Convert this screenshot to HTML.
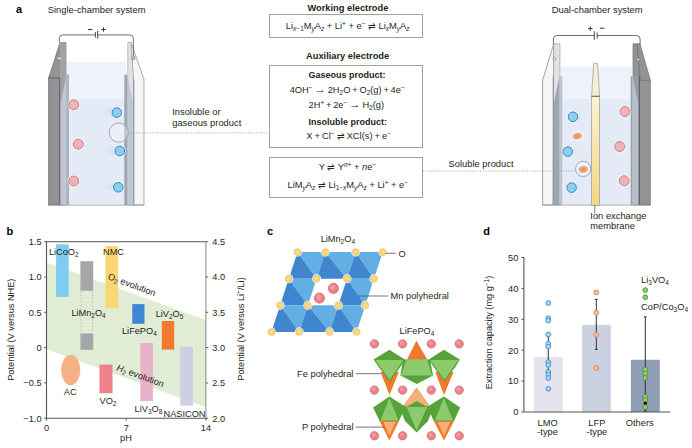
<!DOCTYPE html><html><head><meta charset="utf-8"><style>html,body{margin:0;padding:0;background:#fff;}svg{display:block;}text{font-family:"Liberation Sans",sans-serif;}</style></head><body>
<svg width="692" height="448" viewBox="0 0 692 448">
<defs><linearGradient id="trailL" x1="0" x2="1" y1="0" y2="0"><stop offset="0" stop-color="#d4ebfa" stop-opacity="0"/><stop offset="1" stop-color="#bfe0f6" stop-opacity="0.95"/></linearGradient><linearGradient id="trailR" x1="0" x2="1" y1="0" y2="0"><stop offset="0" stop-color="#bfe0f6" stop-opacity="0.95"/><stop offset="1" stop-color="#d4ebfa" stop-opacity="0"/></linearGradient><linearGradient id="memb" x1="0" x2="0" y1="0" y2="1"><stop offset="0" stop-color="#fbf3d8"/><stop offset="0.25" stop-color="#f9ebbe"/><stop offset="1" stop-color="#f4d682"/></linearGradient><radialGradient id="blob"><stop offset="0" stop-color="#e58f60"/><stop offset="0.7" stop-color="#eba37c"/><stop offset="1" stop-color="#f2c0a4"/></radialGradient></defs>
<text x="16" y="13.4" font-size="11" text-anchor="start" font-weight="bold" fill="#000" >a</text>
<text x="47.8" y="12.8" font-size="9.35" text-anchor="start" font-weight="normal" fill="#231f20" >Single-chamber system</text>
<text x="551.7" y="13.4" font-size="9.35" text-anchor="start" font-weight="normal" fill="#231f20" >Dual-chamber system</text>
<rect x="66" y="62" width="60" height="143" fill="#eef2fa"/>
<rect x="66" y="99" width="60" height="106" fill="#e4ebf6"/>
<polygon points="48.5,78 60,42.5 66,42.5 66,205 48.5,205" fill="#939395" stroke="#666" stroke-width="0.6"/>
<polygon points="60,42.5 66,42.5 66,78 60,78" fill="#a2a2a4"/>
<line x1="48.5" y1="78" x2="60" y2="78" stroke="#555" stroke-width="0.8"/>
<line x1="59.8" y1="78" x2="59.8" y2="205" stroke="#5c616a" stroke-width="1.2"/>
<polygon points="60.4,103 66.4,74.5 66.4,205 60.4,205" fill="#bfc6d0"/>
<polygon points="60.4,74.5 66.4,74.5 60.4,103" fill="#a2a2a4"/>
<rect x="66.4" y="74.5" width="2.6" height="130.5" fill="#a9b1bd"/>
<polygon points="131,42.5 144,79.4 144,205 133.4,205 133.4,79.4" fill="#f6f6f6" stroke="#9a9a9a" stroke-width="0.8"/>
<polygon points="127.8,42.5 131,42.5 133.4,79.4 133.4,205 127.8,205" fill="#e0e2e6" stroke="#9a9a9a" stroke-width="0.6"/>
<polygon points="127.2,74.7 133.4,103.5 133.4,205 127.2,205" fill="#bfc7d1"/>
<rect x="124.3" y="74.7" width="2.9" height="130.3" fill="#9ea6b2"/>
<line x1="133.9" y1="79.4" x2="133.9" y2="205" stroke="#8a92a0" stroke-width="1"/>
<line x1="48.5" y1="205.2" x2="144" y2="205.2" stroke="#888" stroke-width="0.6"/>
<path d="M59.3,42.5 V38.5 Q59.3,34.9 63,34.9 H95.4 M97.6,34.9 H129.7 Q133.4,34.9 133.4,38.5 V56" fill="none" stroke="#6e6e6e" stroke-width="1"/>
<line x1="95.4" y1="32" x2="95.4" y2="37.6" stroke="#555" stroke-width="1.1"/>
<line x1="97.6" y1="30.8" x2="97.6" y2="38.7" stroke="#555" stroke-width="1.1"/>
<line x1="87.9" y1="29.5" x2="92.3" y2="29.5" stroke="#333" stroke-width="1"/>
<path d="M101.3,29.5 H105.7 M103.5,27.3 V31.7" stroke="#333" stroke-width="1"/>
<ellipse cx="59.5" cy="58.3" rx="1.9" ry="1.2" fill="#f2f2f2" stroke="#777" stroke-width="0.5"/>
<circle cx="133.4" cy="58" r="1.8" fill="#bbb" stroke="#777" stroke-width="0.5"/>
<circle cx="73.7" cy="104.8" r="6.3" fill="#fff" opacity="0.7"/>
<circle cx="73.7" cy="104.8" r="5" fill="#edb3b9" stroke="#c47e88" stroke-width="1"/>
<circle cx="78.3" cy="144.2" r="6.3" fill="#fff" opacity="0.7"/>
<circle cx="78.3" cy="144.2" r="5" fill="#edb3b9" stroke="#c47e88" stroke-width="1"/>
<circle cx="73.7" cy="181" r="6.3" fill="#fff" opacity="0.7"/>
<circle cx="73.7" cy="181" r="5" fill="#edb3b9" stroke="#c47e88" stroke-width="1"/>
<path d="M94.8,112.6 Q108.8,106.6 116.8,108.6 L116.8,116.6 Q108.8,117.6 94.8,112.6 Z" fill="url(#trailL)"/>
<circle cx="116.8" cy="112.6" r="6.2" fill="#fff" opacity="0.55"/>
<circle cx="116.8" cy="112.6" r="4.8" fill="#8ccff2" stroke="#3b80b8" stroke-width="1"/>
<path d="M97.8,151 Q111.8,145 119.8,147 L119.8,155 Q111.8,156 97.8,151 Z" fill="url(#trailL)"/>
<circle cx="119.8" cy="151" r="6.2" fill="#fff" opacity="0.55"/>
<circle cx="119.8" cy="151" r="4.8" fill="#8ccff2" stroke="#3b80b8" stroke-width="1"/>
<path d="M96.3,187.3 Q110.3,181.3 118.3,183.3 L118.3,191.3 Q110.3,192.3 96.3,187.3 Z" fill="url(#trailL)"/>
<circle cx="118.3" cy="187.3" r="6.2" fill="#fff" opacity="0.55"/>
<circle cx="118.3" cy="187.3" r="4.8" fill="#8ccff2" stroke="#3b80b8" stroke-width="1"/>
<circle cx="118.8" cy="132.6" r="9.6" fill="#f8fafd" fill-opacity="0.35" stroke="#9a9a9a" stroke-width="0.8"/>
<line x1="128.4" y1="132.9" x2="269.8" y2="132.9" stroke="#a0a0a0" stroke-width="0.8" stroke-dasharray="1.3,1.3"/>
<text x="172.2" y="115.4" font-size="9.35" text-anchor="start" font-weight="normal" fill="#231f20" >Insoluble or</text>
<text x="172.2" y="126.4" font-size="9.35" text-anchor="start" font-weight="normal" fill="#231f20" >gaseous product</text>
<rect x="560" y="66.8" width="72" height="138.4" fill="#eef2fa"/>
<rect x="560" y="99" width="72" height="106.2" fill="#e4ebf6"/>
<polygon points="553.7,43.8 542.6,80.3 542.6,205 553.3,205" fill="#f6f6f6" stroke="#9a9a9a" stroke-width="0.9"/>
<polygon points="553.7,43.8 560,43.8 559.4,205 553.4,205" fill="#e2e2e4" stroke="#9a9a9a" stroke-width="0.6"/>
<polygon points="553.4,104.8 559.4,76.3 559.4,205 553.4,205" fill="#9ea6b2"/>
<rect x="559.4" y="76.3" width="2.9" height="128.7" fill="#bcc4ce"/>
<line x1="553.2" y1="76.3" x2="553.2" y2="205" stroke="#888" stroke-width="0.8"/>
<rect x="552.8" y="57.6" width="3" height="2.6" rx="0.8" fill="#ddd" stroke="#777" stroke-width="0.5"/>
<polygon points="633,43.8 640,43.8 650.4,80.3 650.4,205 633,205" fill="#939395" stroke="#666" stroke-width="0.6"/>
<polyline points="637,43.8 640.2,80.3" fill="none" stroke="#6a6a6a" stroke-width="0.7"/>
<line x1="640.2" y1="80.3" x2="650.4" y2="80.3" stroke="#666" stroke-width="0.6"/>
<rect x="630.7" y="76.3" width="1.8" height="128.7" fill="#9aa0aa"/>
<rect x="632.5" y="76.3" width="6.2" height="128.7" fill="#b6bec8"/>
<polygon points="632.5,76.3 638.7,76.3 638.7,104.8" fill="#9c9c9e"/>
<rect x="638.7" y="76.3" width="1.1" height="128.7" fill="#555a63"/>
<circle cx="638.2" cy="59.5" r="1.5" fill="#ccc" stroke="#666" stroke-width="0.5"/>
<line x1="542.6" y1="205.1" x2="650.4" y2="205.1" stroke="#888" stroke-width="0.6"/>
<polygon points="593.7,63.3 597.6,63.3 599.6,96.3 591.6,96.3" fill="#f6eed4" stroke="#9a9a9a" stroke-width="0.7"/>
<rect x="591.6" y="96.3" width="8" height="109" fill="url(#memb)" stroke="#9a9a9a" stroke-width="0.7"/>
<line x1="591.6" y1="96.3" x2="599.6" y2="96.3" stroke="#555" stroke-width="0.8"/>
<line x1="594.8" y1="205.3" x2="594.8" y2="213" stroke="#555" stroke-width="0.8"/>
<path d="M553.4,44.5 V39 Q553.4,35.5 557,35.5 H594.3 M597.2,35.5 H636.5 Q640.1,35.5 640.1,39 V44.5" fill="none" stroke="#6e6e6e" stroke-width="1"/>
<line x1="594.3" y1="31.3" x2="594.3" y2="39.7" stroke="#555" stroke-width="1.1"/>
<line x1="597.2" y1="32.5" x2="597.2" y2="38.5" stroke="#555" stroke-width="1.1"/>
<path d="M588.1,28.6 H592.5 M590.3,26.4 V30.8" stroke="#333" stroke-width="1"/>
<line x1="600" y1="28.2" x2="604.4" y2="28.2" stroke="#333" stroke-width="1"/>
<circle cx="625" cy="111.5" r="6.3" fill="#fff" opacity="0.7"/>
<circle cx="625" cy="111.5" r="5" fill="#edb3b9" stroke="#c47e88" stroke-width="1"/>
<circle cx="619.7" cy="146.5" r="6.3" fill="#fff" opacity="0.7"/>
<circle cx="619.7" cy="146.5" r="5" fill="#edb3b9" stroke="#c47e88" stroke-width="1"/>
<circle cx="624.2" cy="180.8" r="6.3" fill="#fff" opacity="0.7"/>
<circle cx="624.2" cy="180.8" r="5" fill="#edb3b9" stroke="#c47e88" stroke-width="1"/>
<path d="M587,116.8 Q579,111.8 573,112.8 L573,120.8 Q579,121.8 587,116.8 Z" fill="url(#trailR)"/>
<circle cx="573" cy="116.8" r="6.2" fill="#fff" opacity="0.55"/>
<circle cx="573" cy="116.8" r="4.8" fill="#8ccff2" stroke="#3b80b8" stroke-width="1"/>
<path d="M581.8,151.6 Q573.8,146.6 567.8,147.6 L567.8,155.6 Q573.8,156.6 581.8,151.6 Z" fill="url(#trailR)"/>
<circle cx="567.8" cy="151.6" r="6.2" fill="#fff" opacity="0.55"/>
<circle cx="567.8" cy="151.6" r="4.8" fill="#8ccff2" stroke="#3b80b8" stroke-width="1"/>
<path d="M585.6,187.6 Q577.6,182.6 571.6,183.6 L571.6,191.6 Q577.6,192.6 585.6,187.6 Z" fill="url(#trailR)"/>
<circle cx="571.6" cy="187.6" r="6.2" fill="#fff" opacity="0.55"/>
<circle cx="571.6" cy="187.6" r="4.8" fill="#8ccff2" stroke="#3b80b8" stroke-width="1"/>
<ellipse cx="577.3" cy="136.1" rx="6.2" ry="4.6" fill="#fff" opacity="0.6"/>
<ellipse cx="577.3" cy="136.1" rx="5" ry="3.5" fill="url(#blob)" transform="rotate(-8 577.3 136.1)"/>
<circle cx="583.2" cy="168.9" r="7.6" fill="#fafbfd" fill-opacity="0.7" stroke="#8894a2" stroke-width="0.8"/>
<ellipse cx="583.2" cy="169.4" rx="5" ry="3.7" fill="url(#blob)" transform="rotate(-8 583.2 169.4)"/>
<line x1="422.8" y1="171" x2="575.3" y2="171" stroke="#a0a0a0" stroke-width="0.8" stroke-dasharray="1.3,1.3"/>
<text x="448.6" y="167.2" font-size="9.35" text-anchor="start" font-weight="normal" fill="#231f20" >Soluble product</text>
<text x="590.3" y="218.5" font-size="9.35" text-anchor="start" font-weight="normal" fill="#231f20" >Ion exchange</text>
<text x="590.3" y="228.8" font-size="9.35" text-anchor="start" font-weight="normal" fill="#231f20" >membrane</text>
<rect x="269.5" y="14.5" width="153" height="23" fill="none" stroke="#a0a0a0" stroke-width="1"/>
<rect x="269.5" y="65.5" width="153" height="82" fill="none" stroke="#a0a0a0" stroke-width="1"/>
<rect x="269.5" y="157.5" width="153" height="40" fill="none" stroke="#a0a0a0" stroke-width="1"/>
<text x="347.9" y="10.7" font-size="9.3" text-anchor="middle" font-weight="bold" fill="#231f20" >Working electrode</text>
<text x="347.6" y="59.1" font-size="9.3" text-anchor="middle" font-weight="bold" fill="#231f20" >Auxiliary electrode</text>
<text x="347" y="77.7" font-size="9.0" text-anchor="middle" font-weight="bold" fill="#231f20" >Gaseous product:</text>
<text x="347.8" y="124.6" font-size="9.0" text-anchor="middle" font-weight="bold" fill="#231f20" >Insoluble product:</text>
<text x="347.7" y="28.6" font-size="9.3" text-anchor="middle" font-weight="normal" fill="#231f20" >Li<tspan baseline-shift="-2.2" font-size="6.5"><tspan font-style="italic">x</tspan>−1</tspan>M<tspan baseline-shift="-2.2" font-size="6.5"><tspan font-style="italic">y</tspan></tspan>A<tspan baseline-shift="-2.2" font-size="6.5"><tspan font-style="italic">z</tspan></tspan> + Li<tspan baseline-shift="3.5" font-size="6.5">+</tspan> + e<tspan baseline-shift="3.5" font-size="6.5">−</tspan> ⇌ Li<tspan baseline-shift="-2.2" font-size="6.5"><tspan font-style="italic">x</tspan></tspan>M<tspan baseline-shift="-2.2" font-size="6.5"><tspan font-style="italic">y</tspan></tspan>A<tspan baseline-shift="-2.2" font-size="6.5"><tspan font-style="italic">z</tspan></tspan></text>
<text x="347.2" y="92.9" font-size="9.3" text-anchor="middle" font-weight="normal" fill="#231f20" word-spacing="-0.8">4OH<tspan baseline-shift="3.5" font-size="6.5">−</tspan> <tspan font-size="11.5">→</tspan> 2H<tspan baseline-shift="-2.2" font-size="6.5">2</tspan>O + O<tspan baseline-shift="-2.2" font-size="6.5">2</tspan>(g) + 4e<tspan baseline-shift="3.5" font-size="6.5">−</tspan></text>
<text x="346.3" y="107.9" font-size="9.3" text-anchor="middle" font-weight="normal" fill="#231f20" word-spacing="-0.8">2H<tspan baseline-shift="3.5" font-size="6.5">+</tspan> + 2e<tspan baseline-shift="3.5" font-size="6.5">−</tspan> <tspan font-size="11.5">→</tspan> H<tspan baseline-shift="-2.2" font-size="6.5">2</tspan>(g)</text>
<text x="348.6" y="138.9" font-size="9.3" text-anchor="middle" font-weight="normal" fill="#231f20" word-spacing="-0.5">X + Cl<tspan baseline-shift="3.5" font-size="6.5">−</tspan> ⇌ XCl(s) + e<tspan baseline-shift="3.5" font-size="6.5">−</tspan></text>
<text x="347.4" y="170.3" font-size="9.3" text-anchor="middle" font-weight="normal" fill="#231f20" >Y ⇌ Y<tspan baseline-shift="3.5" font-size="6.5"><tspan font-style="italic">n</tspan>+</tspan> + <tspan font-style="italic">n</tspan>e<tspan baseline-shift="3.5" font-size="6.5">−</tspan></text>
<text x="347.8" y="188.1" font-size="9.3" text-anchor="middle" font-weight="normal" fill="#231f20" >LiM<tspan baseline-shift="-2.2" font-size="6.5"><tspan font-style="italic">y</tspan></tspan>A<tspan baseline-shift="-2.2" font-size="6.5"><tspan font-style="italic">z</tspan></tspan> ⇌ Li<tspan baseline-shift="-2.2" font-size="6.5">1−<tspan font-style="italic">x</tspan></tspan>M<tspan baseline-shift="-2.2" font-size="6.5"><tspan font-style="italic">y</tspan></tspan>A<tspan baseline-shift="-2.2" font-size="6.5"><tspan font-style="italic">z</tspan></tspan> + Li<tspan baseline-shift="3.5" font-size="6.5">+</tspan> + e<tspan baseline-shift="3.5" font-size="6.5">−</tspan></text>
<text x="6.5" y="235" font-size="11" text-anchor="start" font-weight="bold" fill="#000" >b</text>
<polygon points="46.5,262.6 205.9,320 205.9,407.2 46.5,349.0" fill="#e0ecd3"/>
<rect x="56.1" y="244.3" width="12.6" height="52.6" fill="#7ccdf0" opacity="1"/>
<rect x="80.4" y="261.2" width="12.8" height="29.5" fill="#a4a6a9" opacity="1"/>
<path d="M81,291 V333 M92.6,291 V333" fill="none" stroke="#b0b2b0" stroke-width="0.8" stroke-dasharray="1.5,2"/>
<rect x="80.4" y="333.4" width="12.8" height="16.4" fill="#a4a6a9" opacity="1"/>
<rect x="105.4" y="246" width="12.8" height="62.0" fill="#fad772" opacity="1"/>
<rect x="132.3" y="304.1" width="12.2" height="19.7" fill="#3d87d4" opacity="1"/>
<rect x="161.8" y="321" width="12.4" height="28.6" fill="#ef7a30" opacity="1"/>
<rect x="140.3" y="343" width="12.6" height="58.0" fill="#e8b2c6" opacity="1"/>
<rect x="180.3" y="346.8" width="12.7" height="58.9" fill="#ccd0e2" opacity="1"/>
<rect x="99.5" y="364.6" width="13.0" height="28.6" fill="#f08089" opacity="1"/>
<ellipse cx="70.7" cy="370" rx="9.6" ry="15.2" fill="#f5b286"/>
<path d="M205.9,418.2 H46.5 V241.7 H205.9" fill="none" stroke="#555" stroke-width="1.1"/>
<line x1="205.9" y1="241.7" x2="205.9" y2="418.2" stroke="#888" stroke-width="1"/>
<line x1="44.2" y1="241.7" x2="46.5" y2="241.7" stroke="#555" stroke-width="1"/>
<text x="41.5" y="245.0" font-size="9.2" text-anchor="end" font-weight="normal" fill="#231f20" >1.5</text>
<line x1="44.2" y1="277.0" x2="46.5" y2="277.0" stroke="#555" stroke-width="1"/>
<text x="41.5" y="280.3" font-size="9.2" text-anchor="end" font-weight="normal" fill="#231f20" >1.0</text>
<line x1="44.2" y1="312.29999999999995" x2="46.5" y2="312.29999999999995" stroke="#555" stroke-width="1"/>
<text x="41.5" y="315.59999999999997" font-size="9.2" text-anchor="end" font-weight="normal" fill="#231f20" >0.5</text>
<line x1="44.2" y1="347.59999999999997" x2="46.5" y2="347.59999999999997" stroke="#555" stroke-width="1"/>
<text x="41.5" y="350.9" font-size="9.2" text-anchor="end" font-weight="normal" fill="#231f20" >0</text>
<line x1="44.2" y1="382.9" x2="46.5" y2="382.9" stroke="#555" stroke-width="1"/>
<text x="41.5" y="386.2" font-size="9.2" text-anchor="end" font-weight="normal" fill="#231f20" >−0.5</text>
<line x1="44.2" y1="418.2" x2="46.5" y2="418.2" stroke="#555" stroke-width="1"/>
<text x="41.5" y="421.5" font-size="9.2" text-anchor="end" font-weight="normal" fill="#231f20" >−1.0</text>
<line x1="205.9" y1="241.7" x2="208.20000000000002" y2="241.7" stroke="#555" stroke-width="1"/>
<text x="212.3" y="245.0" font-size="9.2" text-anchor="start" font-weight="normal" fill="#231f20" >4.5</text>
<line x1="205.9" y1="277.0" x2="208.20000000000002" y2="277.0" stroke="#555" stroke-width="1"/>
<text x="212.3" y="280.3" font-size="9.2" text-anchor="start" font-weight="normal" fill="#231f20" >4.0</text>
<line x1="205.9" y1="312.29999999999995" x2="208.20000000000002" y2="312.29999999999995" stroke="#555" stroke-width="1"/>
<text x="212.3" y="315.59999999999997" font-size="9.2" text-anchor="start" font-weight="normal" fill="#231f20" >3.5</text>
<line x1="205.9" y1="347.59999999999997" x2="208.20000000000002" y2="347.59999999999997" stroke="#555" stroke-width="1"/>
<text x="212.3" y="350.9" font-size="9.2" text-anchor="start" font-weight="normal" fill="#231f20" >3.0</text>
<line x1="205.9" y1="382.9" x2="208.20000000000002" y2="382.9" stroke="#555" stroke-width="1"/>
<text x="212.3" y="386.2" font-size="9.2" text-anchor="start" font-weight="normal" fill="#231f20" >2.5</text>
<line x1="205.9" y1="418.2" x2="208.20000000000002" y2="418.2" stroke="#555" stroke-width="1"/>
<text x="212.3" y="421.5" font-size="9.2" text-anchor="start" font-weight="normal" fill="#231f20" >2.0</text>
<line x1="46.5" y1="418.2" x2="46.5" y2="420.7" stroke="#555" stroke-width="1"/>
<text x="46.5" y="431.2" font-size="9.2" text-anchor="middle" font-weight="normal" fill="#231f20" >0</text>
<line x1="126.2" y1="418.2" x2="126.2" y2="420.7" stroke="#555" stroke-width="1"/>
<text x="126.2" y="431.2" font-size="9.2" text-anchor="middle" font-weight="normal" fill="#231f20" >7</text>
<line x1="205.9" y1="418.2" x2="205.9" y2="420.7" stroke="#555" stroke-width="1"/>
<text x="205.9" y="431.2" font-size="9.2" text-anchor="middle" font-weight="normal" fill="#231f20" >14</text>
<text x="125.9" y="441.3" font-size="9.2" text-anchor="middle" font-weight="normal" fill="#231f20" >pH</text>
<text x="11" y="329.7" font-size="9.2" text-anchor="middle" font-weight="normal" fill="#231f20" transform="rotate(-90 11 329.7)" dy="3.3">Potential (V versus NHE)</text>
<text x="240.5" y="329" font-size="9.2" text-anchor="middle" font-weight="normal" fill="#231f20" transform="rotate(-90 240.5 329)" dy="3.3">Potential (V versus Li<tspan baseline-shift="3.5" font-size="6.5">+</tspan>/Li)</text>
<text x="48.9" y="255" font-size="9.2" text-anchor="start" font-weight="normal" fill="#231f20" >LiCoO<tspan baseline-shift="-2.2" font-size="6.5">2</tspan></text>
<text x="103" y="255" font-size="9.2" text-anchor="start" font-weight="normal" fill="#231f20" >NMC</text>
<text x="71.4" y="316.4" font-size="9.2" text-anchor="start" font-weight="normal" fill="#231f20" >LiMn<tspan baseline-shift="-2.2" font-size="6.5">2</tspan>O<tspan baseline-shift="-2.2" font-size="6.5">4</tspan></text>
<text x="122" y="333.6" font-size="9.2" text-anchor="start" font-weight="normal" fill="#231f20" >LiFePO<tspan baseline-shift="-2.2" font-size="6.5">4</tspan></text>
<text x="155.7" y="316.6" font-size="9.2" text-anchor="start" font-weight="normal" fill="#231f20" >LiV<tspan baseline-shift="-2.2" font-size="6.5">2</tspan>O<tspan baseline-shift="-2.2" font-size="6.5">5</tspan></text>
<text x="63.8" y="395.4" font-size="9.2" text-anchor="start" font-weight="normal" fill="#231f20" >AC</text>
<text x="99.5" y="403.9" font-size="9.2" text-anchor="start" font-weight="normal" fill="#231f20" >VO<tspan baseline-shift="-2.2" font-size="6.5">2</tspan></text>
<text x="134.6" y="411.5" font-size="9.2" text-anchor="start" font-weight="normal" fill="#231f20" >LiV<tspan baseline-shift="-2.2" font-size="6.5">3</tspan>O<tspan baseline-shift="-2.2" font-size="6.5">8</tspan></text>
<text x="163.6" y="416.8" font-size="9.2" text-anchor="start" font-weight="normal" fill="#231f20" >NASICON</text>
<text x="107.3" y="279.0" font-size="9.2" text-anchor="start" font-weight="normal" fill="#231f20" transform="rotate(20.0 107.3 279.0)">O<tspan baseline-shift="-2.2" font-size="6.5">2</tspan> evolution</text>
<text x="116" y="370.2" font-size="9.2" text-anchor="start" font-weight="normal" fill="#231f20" transform="rotate(20.0 116 370.2)"><tspan font-style="italic">H</tspan><tspan baseline-shift="-2.2" font-size="6.5">2</tspan> evolution</text>
<text x="267" y="235.1" font-size="11" text-anchor="start" font-weight="bold" fill="#000" >c</text>
<text x="320.7" y="241.9" font-size="9.2" text-anchor="start" font-weight="normal" fill="#231f20" >LiMn<tspan baseline-shift="-2.2" font-size="6.5">2</tspan>O<tspan baseline-shift="-2.2" font-size="6.5">4</tspan></text>
<polygon points="297.5,252.1 325.3,252.1 316.6,278.7" fill="#64aee6"/>
<polygon points="297.5,252.1 316.6,278.7 288.8,278.7" fill="#3f86cf"/>
<polygon points="325.3,252.1 355.7,252.1 347.0,278.7" fill="#64aee6"/>
<polygon points="325.3,252.1 347.0,278.7 316.6,278.7" fill="#3f86cf"/>
<polygon points="355.7,252.1 382.7,252.1 374.0,278.7" fill="#64aee6"/>
<polygon points="355.7,252.1 374.0,278.7 347.0,278.7" fill="#3f86cf"/>
<polygon points="288.8,278.7 316.6,278.7 307.9,305.3" fill="#64aee6"/>
<polygon points="288.8,278.7 307.9,305.3 280.1,305.3" fill="#3f86cf"/>
<polygon points="347.0,278.7 374.0,278.7 365.3,305.3" fill="#64aee6"/>
<polygon points="347.0,278.7 365.3,305.3 338.3,305.3" fill="#3f86cf"/>
<polygon points="280.1,305.3 307.9,305.3 299.2,331.9" fill="#64aee6"/>
<polygon points="280.1,305.3 299.2,331.9 271.4,331.9" fill="#3f86cf"/>
<polygon points="307.9,305.3 338.3,305.3 329.6,331.9" fill="#64aee6"/>
<polygon points="307.9,305.3 329.6,331.9 299.2,331.9" fill="#3f86cf"/>
<polygon points="338.3,305.3 365.3,305.3 356.6,331.9" fill="#64aee6"/>
<polygon points="338.3,305.3 356.6,331.9 329.6,331.9" fill="#3f86cf"/>
<circle cx="297.5" cy="252.1" r="4.6" fill="#fff8e0" opacity="0.85"/>
<circle cx="297.5" cy="252.1" r="3.3" fill="#f7da88" stroke="#e4b955" stroke-width="0.7"/>
<circle cx="325.3" cy="252.1" r="4.6" fill="#fff8e0" opacity="0.85"/>
<circle cx="325.3" cy="252.1" r="3.3" fill="#f7da88" stroke="#e4b955" stroke-width="0.7"/>
<circle cx="355.7" cy="252.1" r="4.6" fill="#fff8e0" opacity="0.85"/>
<circle cx="355.7" cy="252.1" r="3.3" fill="#f7da88" stroke="#e4b955" stroke-width="0.7"/>
<circle cx="382.7" cy="252.1" r="4.6" fill="#fff8e0" opacity="0.85"/>
<circle cx="382.7" cy="252.1" r="3.3" fill="#f7da88" stroke="#e4b955" stroke-width="0.7"/>
<circle cx="288.8" cy="278.7" r="4.6" fill="#fff8e0" opacity="0.85"/>
<circle cx="288.8" cy="278.7" r="3.3" fill="#f7da88" stroke="#e4b955" stroke-width="0.7"/>
<circle cx="316.6" cy="278.7" r="4.6" fill="#fff8e0" opacity="0.85"/>
<circle cx="316.6" cy="278.7" r="3.3" fill="#f7da88" stroke="#e4b955" stroke-width="0.7"/>
<circle cx="347.0" cy="278.7" r="4.6" fill="#fff8e0" opacity="0.85"/>
<circle cx="347.0" cy="278.7" r="3.3" fill="#f7da88" stroke="#e4b955" stroke-width="0.7"/>
<circle cx="374.0" cy="278.7" r="4.6" fill="#fff8e0" opacity="0.85"/>
<circle cx="374.0" cy="278.7" r="3.3" fill="#f7da88" stroke="#e4b955" stroke-width="0.7"/>
<circle cx="280.1" cy="305.3" r="4.6" fill="#fff8e0" opacity="0.85"/>
<circle cx="280.1" cy="305.3" r="3.3" fill="#f7da88" stroke="#e4b955" stroke-width="0.7"/>
<circle cx="307.9" cy="305.3" r="4.6" fill="#fff8e0" opacity="0.85"/>
<circle cx="307.9" cy="305.3" r="3.3" fill="#f7da88" stroke="#e4b955" stroke-width="0.7"/>
<circle cx="338.3" cy="305.3" r="4.6" fill="#fff8e0" opacity="0.85"/>
<circle cx="338.3" cy="305.3" r="3.3" fill="#f7da88" stroke="#e4b955" stroke-width="0.7"/>
<circle cx="365.3" cy="305.3" r="4.6" fill="#fff8e0" opacity="0.85"/>
<circle cx="365.3" cy="305.3" r="3.3" fill="#f7da88" stroke="#e4b955" stroke-width="0.7"/>
<circle cx="271.4" cy="331.9" r="4.6" fill="#fff8e0" opacity="0.85"/>
<circle cx="271.4" cy="331.9" r="3.3" fill="#f7da88" stroke="#e4b955" stroke-width="0.7"/>
<circle cx="299.2" cy="331.9" r="4.6" fill="#fff8e0" opacity="0.85"/>
<circle cx="299.2" cy="331.9" r="3.3" fill="#f7da88" stroke="#e4b955" stroke-width="0.7"/>
<circle cx="329.6" cy="331.9" r="4.6" fill="#fff8e0" opacity="0.85"/>
<circle cx="329.6" cy="331.9" r="3.3" fill="#f7da88" stroke="#e4b955" stroke-width="0.7"/>
<circle cx="356.6" cy="331.9" r="4.6" fill="#fff8e0" opacity="0.85"/>
<circle cx="356.6" cy="331.9" r="3.3" fill="#f7da88" stroke="#e4b955" stroke-width="0.7"/>
<circle cx="333.4" cy="288.4" r="6.1" fill="#fff" opacity="0.6"/>
<circle cx="333.4" cy="288.4" r="5.1" fill="#ec8088" stroke="#cc6670" stroke-width="0.7"/>
<circle cx="332.59999999999997" cy="287.4" r="2.55" fill="#f6a8ae" opacity="0.6"/>
<circle cx="319.4" cy="298.1" r="6.1" fill="#fff" opacity="0.6"/>
<circle cx="319.4" cy="298.1" r="5.1" fill="#ec8088" stroke="#cc6670" stroke-width="0.7"/>
<circle cx="318.59999999999997" cy="297.1" r="2.55" fill="#f6a8ae" opacity="0.6"/>
<line x1="385.6" y1="253.3" x2="395.8" y2="253.3" stroke="#555" stroke-width="0.8"/>
<text x="398.4" y="257.4" font-size="9.3" text-anchor="start" font-weight="normal" fill="#231f20" >O</text>
<line x1="358.2" y1="296" x2="388.2" y2="296" stroke="#555" stroke-width="0.8"/>
<text x="390.5" y="299.3" font-size="9.3" text-anchor="start" font-weight="normal" fill="#231f20" >Mn polyhedral</text>
<text x="417" y="334.4" font-size="9.2" text-anchor="middle" font-weight="normal" fill="#231f20" >LiFePO<tspan baseline-shift="-2.2" font-size="6.5">4</tspan></text>
<polygon points="380.5,372 398.8,372 389.5,395" fill="#ef7a2a"/>
<polygon points="435.3,372 453.6,372 444,395" fill="#ef7a2a"/>
<polygon points="416.6,387.9 403,407 430,407" fill="#f6b07a" stroke="#ef7a2a" stroke-width="0.6"/>
<polygon points="379.6,421.1 399,421.1 389.4,440.6" fill="#ef7a2a"/>
<polygon points="383.5,422 395.5,422 389.4,436" fill="#f6b07a"/>
<polygon points="433.8,421.1 454,421.1 444,440.6" fill="#ef7a2a"/>
<polygon points="437.7,422 450,422 444,436" fill="#f6b07a"/>
<polygon points="416.4,340.7 407,359.6 427.2,359.6" fill="#ef7a2a"/>
<polygon points="373.5,359.5 389.4,349.8 404.8,359.5 401,366 389.7,381.8 378,366" fill="#58a23c"/>
<polygon points="375.2,360 403.2,360 389.7,379.8" fill="#8ccb6c"/>
<polygon points="428.7,359.5 443.9,349.8 459.8,359.5 456,366 444.5,381.8 433,366" fill="#58a23c"/>
<polygon points="430.3,360 458.3,360 444.5,379.8" fill="#8ccb6c"/>
<polygon points="403,359.5 430,359.5 433,375.6 416.8,384 400.4,375.6" fill="#58a23c"/>
<polygon points="406,360 427.2,360 432,375.4 401.2,375.4" fill="#8ccb6c"/>
<polygon points="389.4,396.6 405.6,406.7 399,421.1 379.6,421.1 373.1,407.4" fill="#58a23c"/>
<polygon points="389.4,398 398.5,420.6 380.5,420.6" fill="#8ccb6c"/>
<polygon points="443.9,396.6 460.2,407.4 454,421.1 433.8,421.1 427.2,406.7" fill="#58a23c"/>
<polygon points="443.9,398 453,420.6 435,420.6" fill="#8ccb6c"/>
<polygon points="399.5,407 406.7,406.7 416.6,400.9 427.2,406.7 433.5,407 428,421 416.6,432.5 405,421" fill="#58a23c"/>
<polygon points="406.7,407 427.2,407 416.6,430.5" fill="#8ccb6c"/>
<circle cx="374.4" cy="343.9" r="5.2" fill="#fff" opacity="0.6"/>
<circle cx="374.4" cy="343.9" r="4.2" fill="#ec8088" stroke="#cc6670" stroke-width="0.7"/>
<circle cx="373.59999999999997" cy="342.9" r="2.1" fill="#f6a8ae" opacity="0.6"/>
<circle cx="402.6" cy="343.9" r="5.2" fill="#fff" opacity="0.6"/>
<circle cx="402.6" cy="343.9" r="4.2" fill="#ec8088" stroke="#cc6670" stroke-width="0.7"/>
<circle cx="401.8" cy="342.9" r="2.1" fill="#f6a8ae" opacity="0.6"/>
<circle cx="431.3" cy="343.9" r="5.2" fill="#fff" opacity="0.6"/>
<circle cx="431.3" cy="343.9" r="4.2" fill="#ec8088" stroke="#cc6670" stroke-width="0.7"/>
<circle cx="430.5" cy="342.9" r="2.1" fill="#f6a8ae" opacity="0.6"/>
<circle cx="459.2" cy="343.9" r="5.2" fill="#fff" opacity="0.6"/>
<circle cx="459.2" cy="343.9" r="4.2" fill="#ec8088" stroke="#cc6670" stroke-width="0.7"/>
<circle cx="458.4" cy="342.9" r="2.1" fill="#f6a8ae" opacity="0.6"/>
<circle cx="374.4" cy="390.1" r="5.2" fill="#fff" opacity="0.6"/>
<circle cx="374.4" cy="390.1" r="4.2" fill="#ec8088" stroke="#cc6670" stroke-width="0.7"/>
<circle cx="373.59999999999997" cy="389.1" r="2.1" fill="#f6a8ae" opacity="0.6"/>
<circle cx="402.6" cy="390.1" r="5.2" fill="#fff" opacity="0.6"/>
<circle cx="402.6" cy="390.1" r="4.2" fill="#ec8088" stroke="#cc6670" stroke-width="0.7"/>
<circle cx="401.8" cy="389.1" r="2.1" fill="#f6a8ae" opacity="0.6"/>
<circle cx="431.3" cy="390.1" r="5.2" fill="#fff" opacity="0.6"/>
<circle cx="431.3" cy="390.1" r="4.2" fill="#ec8088" stroke="#cc6670" stroke-width="0.7"/>
<circle cx="430.5" cy="389.1" r="2.1" fill="#f6a8ae" opacity="0.6"/>
<circle cx="459.2" cy="390.1" r="5.2" fill="#fff" opacity="0.6"/>
<circle cx="459.2" cy="390.1" r="4.2" fill="#ec8088" stroke="#cc6670" stroke-width="0.7"/>
<circle cx="458.4" cy="389.1" r="2.1" fill="#f6a8ae" opacity="0.6"/>
<circle cx="374.4" cy="435.8" r="5.2" fill="#fff" opacity="0.6"/>
<circle cx="374.4" cy="435.8" r="4.2" fill="#ec8088" stroke="#cc6670" stroke-width="0.7"/>
<circle cx="373.59999999999997" cy="434.8" r="2.1" fill="#f6a8ae" opacity="0.6"/>
<circle cx="402.6" cy="435.8" r="5.2" fill="#fff" opacity="0.6"/>
<circle cx="402.6" cy="435.8" r="4.2" fill="#ec8088" stroke="#cc6670" stroke-width="0.7"/>
<circle cx="401.8" cy="434.8" r="2.1" fill="#f6a8ae" opacity="0.6"/>
<circle cx="431.3" cy="435.8" r="5.2" fill="#fff" opacity="0.6"/>
<circle cx="431.3" cy="435.8" r="4.2" fill="#ec8088" stroke="#cc6670" stroke-width="0.7"/>
<circle cx="430.5" cy="434.8" r="2.1" fill="#f6a8ae" opacity="0.6"/>
<circle cx="459.2" cy="435.8" r="5.2" fill="#fff" opacity="0.6"/>
<circle cx="459.2" cy="435.8" r="4.2" fill="#ec8088" stroke="#cc6670" stroke-width="0.7"/>
<circle cx="458.4" cy="434.8" r="2.1" fill="#f6a8ae" opacity="0.6"/>
<line x1="355.7" y1="373.7" x2="381.4" y2="373.7" stroke="#555" stroke-width="0.8"/>
<text x="297.1" y="377" font-size="9.3" text-anchor="start" font-weight="normal" fill="#231f20" >Fe polyhedral</text>
<line x1="355.7" y1="427.1" x2="384.3" y2="427.1" stroke="#555" stroke-width="0.8"/>
<text x="302" y="430.4" font-size="9.3" text-anchor="start" font-weight="normal" fill="#231f20" >P polyhedral</text>
<text x="483.3" y="234.6" font-size="11" text-anchor="start" font-weight="bold" fill="#000" >d</text>
<rect x="533.8" y="356.998" width="29.0" height="55.0" fill="#e5e4ee" opacity="1"/>
<rect x="582.1" y="324.862" width="28.7" height="87.1" fill="#cad1e1" opacity="1"/>
<rect x="630.9" y="359.779" width="28.9" height="52.2" fill="#8f9cb6" opacity="1"/>
<line x1="523.9" y1="257.0" x2="523.9" y2="412.0" stroke="#555" stroke-width="1.1"/>
<line x1="523.9" y1="412.0" x2="670.3" y2="412.0" stroke="#555" stroke-width="1.1"/>
<line x1="521.4" y1="412.0" x2="523.9" y2="412.0" stroke="#555" stroke-width="1"/>
<text x="518.4" y="415.3" font-size="9.3" text-anchor="end" font-weight="normal" fill="#231f20" >0</text>
<line x1="521.4" y1="381.1" x2="523.9" y2="381.1" stroke="#555" stroke-width="1"/>
<text x="518.4" y="384.40000000000003" font-size="9.3" text-anchor="end" font-weight="normal" fill="#231f20" >10</text>
<line x1="521.4" y1="350.2" x2="523.9" y2="350.2" stroke="#555" stroke-width="1"/>
<text x="518.4" y="353.5" font-size="9.3" text-anchor="end" font-weight="normal" fill="#231f20" >20</text>
<line x1="521.4" y1="319.3" x2="523.9" y2="319.3" stroke="#555" stroke-width="1"/>
<text x="518.4" y="322.6" font-size="9.3" text-anchor="end" font-weight="normal" fill="#231f20" >30</text>
<line x1="521.4" y1="288.4" x2="523.9" y2="288.4" stroke="#555" stroke-width="1"/>
<text x="518.4" y="291.7" font-size="9.3" text-anchor="end" font-weight="normal" fill="#231f20" >40</text>
<line x1="521.4" y1="257.5" x2="523.9" y2="257.5" stroke="#555" stroke-width="1"/>
<text x="518.4" y="260.8" font-size="9.3" text-anchor="end" font-weight="normal" fill="#231f20" >50</text>
<text x="488.5" y="332.5" font-size="9.2" text-anchor="middle" font-weight="normal" fill="#231f20" transform="rotate(-90 488.5 332.5)" dy="3.3">Extraction capacity (mg g<tspan baseline-shift="3.5" font-size="6.5">−1</tspan>)</text>
<line x1="548.3" y1="336" x2="548.3" y2="379" stroke="#333" stroke-width="1"/>
<line x1="546.8" y1="336" x2="549.8" y2="336" stroke="#333" stroke-width="1"/>
<line x1="546.8" y1="379" x2="549.8" y2="379" stroke="#333" stroke-width="1"/>
<line x1="596.3" y1="299.4" x2="596.3" y2="349.4" stroke="#333" stroke-width="1"/>
<line x1="594.8" y1="299.4" x2="597.8" y2="299.4" stroke="#333" stroke-width="1"/>
<line x1="594.8" y1="349.4" x2="597.8" y2="349.4" stroke="#333" stroke-width="1"/>
<line x1="645.3" y1="316.9" x2="645.3" y2="411" stroke="#333" stroke-width="1"/>
<line x1="643.8" y1="316.9" x2="646.8" y2="316.9" stroke="#333" stroke-width="1"/>
<line x1="643.8" y1="411" x2="646.8" y2="411" stroke="#333" stroke-width="1"/>
<circle cx="548.3" cy="303.1" r="2.4" fill="#a8d8f2" stroke="#3d8cc8" stroke-width="0.9"/>
<circle cx="548.3" cy="318.2" r="2.4" fill="#a8d8f2" stroke="#3d8cc8" stroke-width="0.9"/>
<circle cx="548.3" cy="320.5" r="2.4" fill="#a8d8f2" stroke="#3d8cc8" stroke-width="0.9"/>
<circle cx="548.3" cy="334.5" r="2.4" fill="#a8d8f2" stroke="#3d8cc8" stroke-width="0.9"/>
<circle cx="548.3" cy="343.8" r="2.4" fill="#a8d8f2" stroke="#3d8cc8" stroke-width="0.9"/>
<circle cx="548.3" cy="346.7" r="2.4" fill="#a8d8f2" stroke="#3d8cc8" stroke-width="0.9"/>
<circle cx="548.3" cy="362.1" r="2.4" fill="#a8d8f2" stroke="#3d8cc8" stroke-width="0.9"/>
<circle cx="548.3" cy="365" r="2.4" fill="#a8d8f2" stroke="#3d8cc8" stroke-width="0.9"/>
<circle cx="548.3" cy="372" r="2.4" fill="#a8d8f2" stroke="#3d8cc8" stroke-width="0.9"/>
<circle cx="548.3" cy="374.9" r="2.4" fill="#a8d8f2" stroke="#3d8cc8" stroke-width="0.9"/>
<circle cx="548.3" cy="378" r="2.4" fill="#a8d8f2" stroke="#3d8cc8" stroke-width="0.9"/>
<circle cx="548.3" cy="388.8" r="2.4" fill="#a8d8f2" stroke="#3d8cc8" stroke-width="0.9"/>
<circle cx="596.3" cy="292.5" r="2.4" fill="#f8c0a0" stroke="#e8804a" stroke-width="0.9"/>
<circle cx="596.3" cy="312.8" r="2.4" fill="#f8c0a0" stroke="#e8804a" stroke-width="0.9"/>
<circle cx="596.3" cy="334.7" r="2.4" fill="#f8c0a0" stroke="#e8804a" stroke-width="0.9"/>
<circle cx="596.3" cy="368.1" r="2.4" fill="#f8c0a0" stroke="#e8804a" stroke-width="0.9"/>
<circle cx="645.3" cy="290.1" r="2.4" fill="#94cc70" stroke="#4f9438" stroke-width="0.9"/>
<circle cx="645.3" cy="297.2" r="2.4" fill="#94cc70" stroke="#4f9438" stroke-width="0.9"/>
<circle cx="645.3" cy="369.5" r="2.4" fill="#94cc70" stroke="#4f9438" stroke-width="0.9"/>
<circle cx="645.3" cy="373.4" r="2.4" fill="#94cc70" stroke="#4f9438" stroke-width="0.9"/>
<circle cx="645.3" cy="377.8" r="2.4" fill="#94cc70" stroke="#4f9438" stroke-width="0.9"/>
<circle cx="645.3" cy="396.9" r="2.4" fill="#94cc70" stroke="#4f9438" stroke-width="0.9"/>
<circle cx="645.3" cy="400" r="2.4" fill="#94cc70" stroke="#4f9438" stroke-width="0.9"/>
<circle cx="645.3" cy="407" r="2.4" fill="#94cc70" stroke="#4f9438" stroke-width="0.9"/>
<circle cx="645.3" cy="403.2" r="1.6" fill="#111"/>
<text x="547.6" y="426.0" font-size="9.3" text-anchor="middle" font-weight="normal" fill="#231f20" >LMO</text>
<text x="547.6" y="434.9" font-size="9.3" text-anchor="middle" font-weight="normal" fill="#231f20" >-type</text>
<text x="596.9" y="426.0" font-size="9.3" text-anchor="middle" font-weight="normal" fill="#231f20" >LFP</text>
<text x="596.9" y="434.9" font-size="9.3" text-anchor="middle" font-weight="normal" fill="#231f20" >-type</text>
<text x="639.7" y="426.0" font-size="9.3" text-anchor="middle" font-weight="normal" fill="#231f20" >Others</text>
<text x="641" y="282.5" font-size="9.3" text-anchor="start" font-weight="normal" fill="#231f20" >Li<tspan baseline-shift="-2.2" font-size="6.5">3</tspan>VO<tspan baseline-shift="-2.2" font-size="6.5">4</tspan></text>
<text x="641" y="309.9" font-size="9.3" text-anchor="start" font-weight="normal" fill="#231f20" >CoP/Co<tspan baseline-shift="-2.2" font-size="6.5">3</tspan>O<tspan baseline-shift="-2.2" font-size="6.5">4</tspan></text>
</svg></body></html>
